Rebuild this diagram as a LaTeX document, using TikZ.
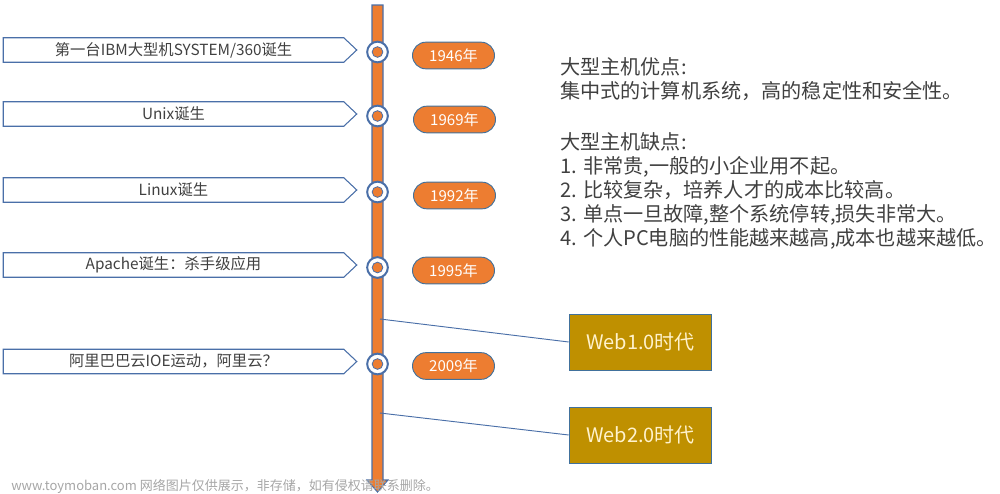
\documentclass[tikz,border=0pt]{standalone}
\usepackage{fontspec}
\setmainfont{Noto Sans CJK SC}
\usetikzlibrary{calc,shapes.misc}
\definecolor{tlorange}{HTML}{ED7D31}
\definecolor{tlblue}{HTML}{4A6FA8}
\definecolor{pillblue}{HTML}{41719C}
\definecolor{goldbox}{HTML}{BF9000}
\definecolor{txt}{HTML}{404040}
\definecolor{cream}{HTML}{FFF2CC}
\tikzset{
  ring/.style={circle, draw=tlblue, line width=1.5pt, fill=white, minimum size=15.5pt, inner sep=0pt},
  dot/.style={circle, draw=tlblue, line width=0.6pt, fill=tlorange, minimum size=8pt, inner sep=0pt},
  pill/.style={rounded rectangle, draw=pillblue, line width=0.7pt, fill=tlorange, minimum width=61.5pt, minimum height=20pt, inner sep=0pt, text=white, font=\fontsize{11.3}{13}\selectfont},
  evlabel/.style={rectangle, minimum width=255pt, minimum height=18pt, inner sep=0pt, text=txt, font=\fontsize{11.5}{13}\selectfont},
  pent/.style={draw=tlblue, line width=0.8pt},
  webbox/.style={rectangle, draw=pillblue, line width=0.7pt, fill=goldbox, minimum width=107pt, minimum height=42pt, inner sep=0pt, text=cream, font=\fontsize{15}{18}\selectfont},
  conn/.style={draw=tlblue, line width=0.7pt},
  note/.style={anchor=base west, inner sep=0pt, text=txt, font=\fontsize{15.1}{18}\selectfont},
}
\begin{document}
\begin{tikzpicture}[x=0.75pt, y=-0.75pt]
\useasboundingbox (0,0) rectangle (1000,493);
% timeline bar with arrow head
\draw[draw=tlblue, fill=tlorange, line width=0.8pt] (372,5) -- (383,5) -- (383,480) -- (388,480) -- (377.5,492) -- (367,480) -- (372,480) -- cycle;
% event labels
\foreach \n/\y/\t in {1/50/{第一台IBM大型机SYSTEM/360诞生}, 2/114/{Unix诞生}, 3/190/{Linux诞生}, 4/265/{Apache诞生：杀手级应用}, 5/361.5/{阿里巴巴云IOE运动，阿里云？}}{
  \node[evlabel] (l\n) at (173.5,\y) {\t};
  \draw[pent] (l\n.north west) -- (l\n.north east) -- ($(l\n.east)+(13,0)$) -- (l\n.south east) -- (l\n.south west) -- cycle;
}
% rings on the timeline
\foreach \n/\y in {1/52, 2/116, 3/192, 4/267.5, 5/364}{
  \node[ring] (r\n) at (377.5,\y) {};
  \node[dot] (d\n) at (r\n) {};
}
% year pills
\node[pill] (p1) at (453.5,55.5) {1946年};
\node[pill] (p2) at (454.5,119.5) {1969年};
\node[pill] (p3) at (454.5,195.5) {1992年};
\node[pill] (p4) at (453.5,270.5) {1995年};
\node[pill] (p5) at (453.5,366) {2009年};
% web era boxes
\node[webbox] (w1) at (640.5,342) {Web1.0时代};
\node[webbox] (w2) at (640.5,435) {Web2.0时代};
\coordinate (b1) at (380,319);
\coordinate (b2) at (380,413);
\draw[conn] (b1) -- (w1.west);
\draw[conn] (b2) -- (w2.west);
% notes
\node[note] (t1) at (560,74) {大型主机优点:};
\node[note] (t2) at (560,98) {集中式的计算机系统，高的稳定性和安全性。};
\node[note] (t3) at (560,149) {大型主机缺点:};
\node[note] (t4) at (560,173) {1. 非常贵,一般的小企业用不起。};
\node[note] (t5) at (560,197) {2. 比较复杂，培养人才的成本比较高。};
\node[note] (t6) at (560,221) {3. 单点一旦故障,整个系统停转,损失非常大。};
\node[note] (t7) at (560,245) {4. 个人PC电脑的性能越来越高,成本也越来越低。};
% watermark
\node[anchor=base west, inner sep=0pt, text=black!35, font=\fontsize{9.75}{11}\selectfont] (wm) at (11,490) {www.toymoban.com 网络图片仅供展示，非存储，如有侵权请联系删除。};
\end{tikzpicture}
\end{document}
